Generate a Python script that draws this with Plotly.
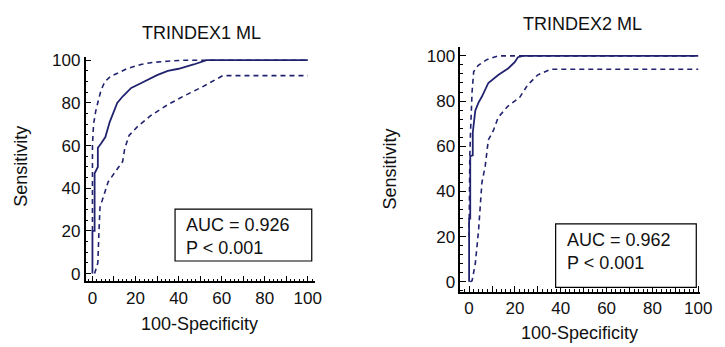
import plotly.graph_objects as go

W, H = 725, 347

# ---- data ----
# Left: TRINDEX1 ML
L_fpr = [0, 0, 1, 1, 2.5, 2.5, 4, 6, 8, 11.5, 14, 18, 22, 26, 30, 35, 40, 47, 53, 100]
L_sens = [0, 20, 20, 47, 50, 59, 61, 64, 71, 80, 83, 87, 89, 91, 93, 95, 96, 98, 100, 100]
L_up_fpr = [0, 0, 0.5, 1.5, 2.7, 4, 5.8, 8.5, 11.9, 16, 22.5, 28, 34.7, 42, 50, 100]
L_up_sens = [20, 60, 70, 76, 81, 86, 90, 92.5, 94, 96, 98, 99, 99.5, 100, 100, 100]
L_lo_fpr = [1, 2.5, 3, 3.5, 7.3, 14, 15, 17, 21, 27, 34.7, 42, 51, 60.6, 100]
L_lo_sens = [0, 5, 19, 31, 43, 52.5, 58.6, 64.7, 69, 74, 79, 83, 87.5, 92.8, 92.8]

# Right: TRINDEX2 ML
R_fpr = [0, 0, 0.5, 0.5, 1.6, 1.6, 2.7, 4.1, 5.6, 8.4, 12.7, 17, 19.9, 21.3, 23.5, 100]
R_sens = [0, 28, 28, 55.6, 56, 66, 75.7, 79.3, 82, 88, 91.5, 94.4, 97.2, 99.4, 100, 100]
R_up_fpr = [0, 0, 0.3, 0.6, 1.3, 2, 4, 7.7, 12.7, 100]
R_up_sens = [20, 30, 55, 65.6, 84, 93, 95.8, 98.3, 100, 100]
R_lo_fpr = [0.5, 1.3, 2.7, 4.1, 5.6, 7, 8.4, 10.6, 12.7, 17, 22, 25.6, 29.9, 35.6, 100]
R_lo_sens = [0, 0.5, 8, 22.5, 44, 51, 62.8, 67, 72.8, 77.8, 81.5, 87.2, 91.5, 94.1, 94.1]

titles = ["TRINDEX1 ML", "TRINDEX2 ML"]
auc_texts = ["AUC = 0.926<br>P &lt; 0.001", "AUC = 0.962<br>P &lt; 0.001"]
x_tickvals = [0, 10, 20, 30, 40, 50, 60, 70, 80, 90, 100]
x_ticktext = ["0", "", "20", "", "40", "", "60", "", "80", "", "100"]

NAVY = "#22236f"
FONT = "Liberation Sans, Arial, sans-serif"

def fx(p):
    return p / W

def fy(p):
    return 1 - p / H

fig = go.Figure()

series = [
    ("x", "y", L_fpr, L_sens, L_up_fpr, L_up_sens, L_lo_fpr, L_lo_sens),
    ("x2", "y2", R_fpr, R_sens, R_up_fpr, R_up_sens, R_lo_fpr, R_lo_sens),
]
for xa, ya, fp, se, ufp, use, lfp, lse in series:
    fig.add_trace(go.Scatter(x=lfp, y=lse, mode="lines", xaxis=xa, yaxis=ya,
                             line=dict(color=NAVY, width=1.6, dash="5px,4px"),
                             showlegend=False, hoverinfo="skip"))
    fig.add_trace(go.Scatter(x=ufp, y=use, mode="lines", xaxis=xa, yaxis=ya,
                             line=dict(color=NAVY, width=1.6, dash="5px,4px"),
                             showlegend=False, hoverinfo="skip"))
    fig.add_trace(go.Scatter(x=fp, y=se, mode="lines", xaxis=xa, yaxis=ya,
                             line=dict(color=NAVY, width=1.8),
                             showlegend=False, hoverinfo="skip"))

axis_common = dict(showline=True, linecolor="black", linewidth=1.5, mirror=False,
                   showgrid=False, zeroline=False, ticks="inside", ticklen=6,
                   tickwidth=1, tickcolor="black",
                   tickfont=dict(family=FONT, size=17, color="#111"))

# Left panel geometry (pixels)
lx0, lx1, ly0, ly1 = 87, 320, 52, 282
rx0, rx1, ry0, ry1 = 468, 712, 42, 293

fig.update_layout(
    width=W, height=H, margin=dict(l=0, r=0, t=0, b=0),
    paper_bgcolor="white", plot_bgcolor="white",
    xaxis=dict(domain=[fx(lx0), fx(lx1)], range=[-3.2, 103.2], anchor="y",
               tickmode="array", tickvals=x_tickvals, ticktext=x_ticktext,
               minor=dict(dtick=2, tick0=0, ticks="inside", ticklen=3, tickcolor="black"),
               **axis_common),
    yaxis=dict(domain=[fy(ly1), fy(ly0)], range=[-3.7, 101.6], anchor="x",
               dtick=20, tick0=0,
               minor=dict(dtick=5, tick0=0, ticks="inside", ticklen=3, tickcolor="black"),
               **axis_common),
    xaxis2=dict(domain=[fx(rx0), fx(rx1)], range=[-3.86, 100.86], anchor="y2",
                tickmode="array", tickvals=x_tickvals, ticktext=x_ticktext,
                minor=dict(dtick=2, tick0=0, ticks="inside", ticklen=3, tickcolor="black"),
                **axis_common),
    yaxis2=dict(domain=[fy(ry1), fy(ry0)], range=[-4.6, 103.9], anchor="x2",
                dtick=20, tick0=0,
                minor=dict(dtick=4, tick0=0, ticks="inside", ticklen=3, tickcolor="black"),
                **axis_common),
)

anns = []
shapes = []
tfont = dict(family=FONT, size=18, color="#111")
# titles
anns.append(dict(text=titles[0], x=fx(205), y=fy(28), xref="paper", yref="paper",
                 xanchor="center", yanchor="middle", showarrow=False, font=tfont))
anns.append(dict(text=titles[1], x=fx(592), y=fy(18), xref="paper", yref="paper",
                 xanchor="center", yanchor="middle", showarrow=False, font=tfont))
# axis titles
for cx, cy in [(203, 325), (589, 335)]:
    anns.append(dict(text="100-Specificity", x=fx(cx), y=fy(cy), xref="paper", yref="paper",
                     xanchor="center", yanchor="middle", showarrow=False, font=tfont))
for cx, cy in [(22, 164), (397, 167)]:
    anns.append(dict(text="Sensitivity", x=fx(cx), y=fy(cy), xref="paper", yref="paper",
                     xanchor="center", yanchor="middle", showarrow=False, font=tfont,
                     textangle=-90))
# AUC boxes
boxes = [((178, 208, 317, 261), (187, 236)), ((565, 223, 708, 288), (575, 251))]
for (bx0, by0, bx1, by1), (tx, ty) in boxes:
    shapes.append(dict(type="rect", xref="paper", yref="paper",
                       x0=fx(bx0), x1=fx(bx1), y0=fy(by1), y1=fy(by0),
                       line=dict(color="black", width=1.2), fillcolor="white", layer="above"))
for i, ((bx0, by0, bx1, by1), (tx, ty)) in enumerate(boxes):
    anns.append(dict(text=auc_texts[i], x=fx(tx), y=fy(ty), xref="paper", yref="paper",
                     xanchor="left", yanchor="middle", align="left", showarrow=False,
                     font=tfont))

fig.update_layout(annotations=anns, shapes=shapes)
fig.write_html("out.html")
